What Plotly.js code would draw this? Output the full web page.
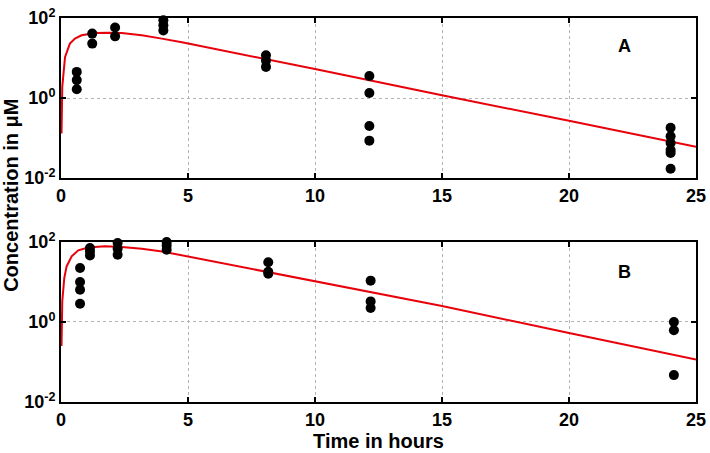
<!DOCTYPE html>
<html>
<head>
<meta charset="utf-8">
<script src="https://cdn.plot.ly/plotly-3.0.1.min.js"></script>
<style>html,body{margin:0;padding:0;background:#fff;}#chart{width:710px;height:453px;}</style>
</head>
<body>
<div id="chart"></div>
<script>
// Panel A observed data
const tA = [0.62,0.62,0.62, 1.23,1.23, 2.13,2.13, 4.03,4.03,4.03, 8.07,8.07,8.07, 12.14,12.14,12.14,12.14, 24.0,24.0,24.0,24.0,24.0,24.0];
const cA = [4.5,2.8,1.65, 40.7,22.9, 57.6,34.8, 87.5,66,49, 11.7,8.7,6.0, 3.55,1.33,0.2,0.086, 0.18,0.11,0.075,0.05,0.042,0.017];
// Panel A model curve
const fitTA = [0.02,0.05,0.16,0.35,0.55,0.81,1.34,1.86,2.39,3.18,3.97,4.81,10,15,20,25];
const fitCA = [0.13,1.9,10.6,22.9,30.5,37,42,43,42,37,30.5,24.3,5.3,1.17,0.27,0.06];
// Panel B observed data
const tB = [0.75,0.75,0.75,0.75, 1.14,1.14,1.14, 2.23,2.23,2.23, 4.16,4.16,4.16, 8.16,8.16,8.16, 12.19,12.19,12.19, 24.13,24.13,24.13];
const cB = [22.4,10,6.4,2.87, 70.8,58,46, 94,68,48, 100,82,64, 31,18,16, 10.8,3.27,2.24, 1.0,0.62,0.047];
// Panel B model curve
const fitTB = [0.02,0.05,0.13,0.22,0.42,0.68,1.07,1.73,2.39,3.18,3.98,4.81,10,15,20,25];
const fitCB = [0.25,3.3,12.6,24.5,43.7,61.7,73,78,75,67.6,58,45.7,10.5,2.5,0.53,0.115];
// Ticks
const xTicks = [0,5,10,15,20,25];
const yTicks = [0.01,1,100];
const yTickText = ['10<sup>-2</sup>','10<sup>0</sup>','10<sup>2</sup>'];
const panelLabels = ['A','B'];

const F = 'Liberation Sans, Arial, sans-serif';
const tickFont = {family:F, size:18, color:'#000', weight:'bold'};

function xax(extra){
  return Object.assign({
    range:[0,25], tickvals:xTicks, ticktext:xTicks.map(String),
    showline:true, linecolor:'#000', linewidth:2, mirror:'ticks',
    ticks:'inside', ticklen:5, tickwidth:2, tickcolor:'#000',
    showgrid:true, gridcolor:'#b4b4b4', gridwidth:1, griddash:'dot',
    zeroline:false, tickfont:tickFont
  }, extra);
}
function yax(extra){
  return Object.assign({
    type:'log', range:[-2,2], tickvals:yTicks, ticktext:yTickText,
    showline:true, linecolor:'#000', linewidth:2, mirror:'ticks',
    ticks:'inside', ticklen:5, tickwidth:2, tickcolor:'#000',
    showgrid:true, gridcolor:'#b4b4b4', gridwidth:1, griddash:'dot',
    zeroline:false, tickfont:tickFont
  }, extra);
}

const mk = {color:'#000', size:10};
const ln = {color:'#e8000b', width:2};
const data = [
  {x:fitTA, y:fitCA, mode:'lines', line:ln, xaxis:'x', yaxis:'y', hoverinfo:'skip'},
  {x:tA, y:cA, mode:'markers', marker:mk, xaxis:'x', yaxis:'y', cliponaxis:false},
  {x:fitTB, y:fitCB, mode:'lines', line:ln, xaxis:'x2', yaxis:'y2', hoverinfo:'skip'},
  {x:tB, y:cB, mode:'markers', marker:mk, xaxis:'x2', yaxis:'y2', cliponaxis:false}
];

const layout = {
  width:710, height:453, showlegend:false,
  paper_bgcolor:'#fff', plot_bgcolor:'#fff',
  margin:{l:61, r:14, t:18, b:51},
  font:{family:F, color:'#000'},
  xaxis: xax({anchor:'y', domain:[0,1]}),
  yaxis: yax({anchor:'x', domain:[0.5833,1]}),
  xaxis2: xax({anchor:'y2', domain:[0,1],
    title:{text:'Time in hours', font:{family:F, size:20, weight:'bold', color:'#000'}, standoff:3}}),
  yaxis2: yax({anchor:'x2', domain:[0,0.4167]}),
  annotations:[
    {xref:'x', yref:'y', x:22.2, y:1.29, text:panelLabels[0], showarrow:false,
     font:{family:F, size:18, weight:'bold', color:'#000'}},
    {xref:'x2', yref:'y2', x:22.2, y:1.245, text:panelLabels[1], showarrow:false,
     font:{family:F, size:18, weight:'bold', color:'#000'}},
    {xref:'paper', yref:'paper', x:-0.079, y:0.539, xanchor:'center', yanchor:'middle',
     text:'Concentration in μM', textangle:-90, showarrow:false,
     font:{family:F, size:20, weight:'bold', color:'#000'}}
  ]
};

Plotly.newPlot('chart', data, layout, {staticPlot:true, displayModeBar:false});
</script>
</body>
</html>
